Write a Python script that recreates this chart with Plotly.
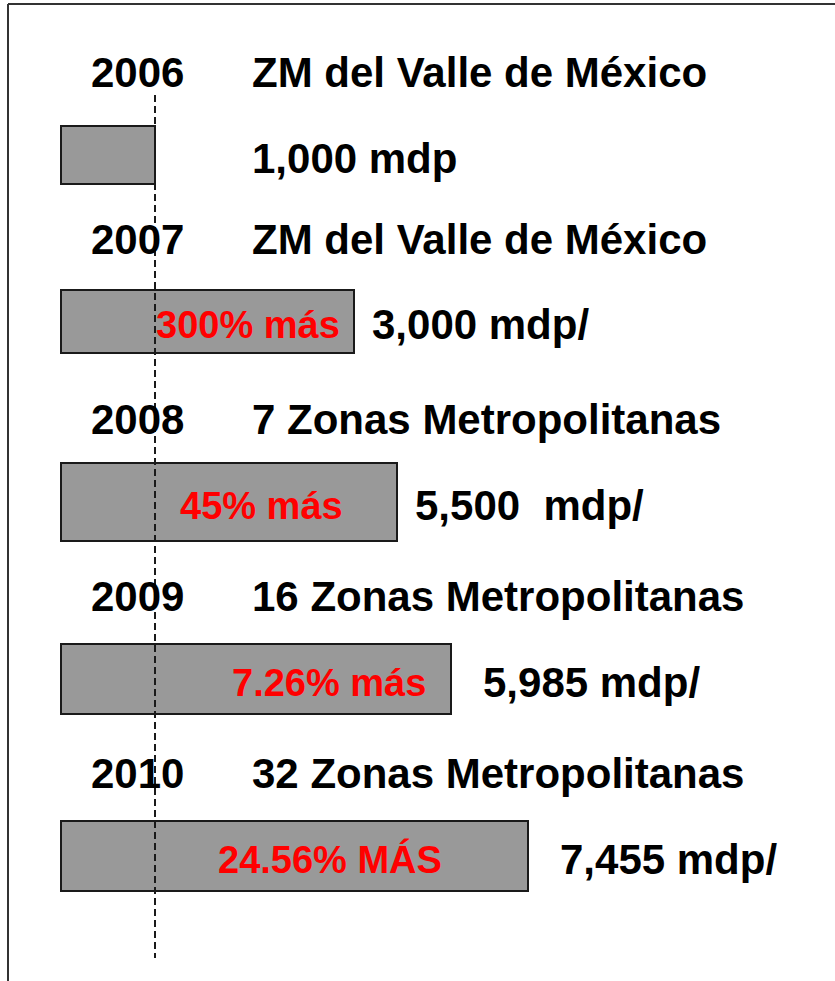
import plotly.graph_objects as go

years = ["2006", "2007", "2008", "2009", "2010"]
zones = ["ZM del Valle de México", "ZM del Valle de México", "7 Zonas Metropolitanas",
         "16 Zonas Metropolitanas", "32 Zonas Metropolitanas"]
amount_labels = ["1,000 mdp", "3,000 mdp/", "5,500  mdp/", "5,985 mdp/", "7,455 mdp/"]
# schematic bar lengths as drawn (millions of pesos, relative to 2006 = 1,000)
bar_lengths = [1000, 3120, 3570, 4150, 4970]
growth_labels = ["", "300% más", "45% más", "7.26% más", "24.56% MÁS"]

W, H = 835, 981
px_per_unit = 94 / 1000.0
x0_px = 61
x_range = [-x0_px / px_per_unit, (W - x0_px) / px_per_unit]
row0_px, row_step = 155, 175.25
y_range = [(H - row0_px) / row_step, -row0_px / row_step]

# small per-row layout nudge (row units) to follow the uneven spacing of the slide
row_nudge = [0, -0.05, -0.02, -0.01, 0]
rows = [i + row_nudge[i] for i in range(len(years))]
bar_widths = [0.33, 0.365, 0.44, 0.405, 0.40]

fig = go.Figure()
fig.add_trace(go.Bar(
    x=bar_lengths, y=rows, orientation="h", width=bar_widths,
    marker=dict(color="#999999", line=dict(color="#1a1a1a", width=2)),
    hoverinfo="skip", showlegend=False,
))

FONT = "Liberation Sans, Arial, sans-serif"
FS = 42
ann = []
amount_shift = [0, 16, 16, 30, 30]
growth_shift = [0, -12, -52, -23, -84]
for i, r in enumerate(rows):
    ann.append(dict(x=137 / W, xref="paper", y=r - 0.47, yref="y", text=f"<b>{years[i]}</b>",
                    showarrow=False, xanchor="center", yanchor="middle",
                    font=dict(family=FONT, size=FS, color="black")))
    ann.append(dict(x=250 / W, xref="paper", y=r - 0.47, yref="y", text=f"<b>{zones[i]}</b>",
                    showarrow=False, xanchor="left", yanchor="middle",
                    font=dict(family=FONT, size=FS, color="black")))
    if i == 0:
        ax, axref = 250 / W, "paper"
    else:
        ax, axref = bar_lengths[i], "x"
    ann.append(dict(x=ax, xref=axref, y=r + 0.02, yref="y", text=f"<b>{amount_labels[i]}</b>",
                    showarrow=False, xanchor="left", yanchor="middle", xshift=amount_shift[i],
                    font=dict(family=FONT, size=FS, color="black")))
    if growth_labels[i]:
        ann.append(dict(x=bar_lengths[i], xref="x", y=r + 0.02, yref="y", text=f"<b>{growth_labels[i]}</b>",
                        showarrow=False, xanchor="right", yanchor="middle", xshift=growth_shift[i],
                        font=dict(family=FONT, size=38, color="#ff0000")))

shapes = [
    dict(type="line", xref="x", x0=bar_lengths[0], x1=bar_lengths[0], yref="paper",
         y0=1 - 95 / H, y1=1 - 958 / H, line=dict(color="#1a1a1a", width=2, dash="7px,4px")),
    dict(type="line", xref="paper", yref="paper", x0=8 / W, x1=1, y0=1 - 4 / H, y1=1 - 4 / H,
         line=dict(color="#333333", width=2)),
    dict(type="line", xref="paper", yref="paper", x0=8 / W, x1=8 / W, y0=1 - 4 / H, y1=0,
         line=dict(color="#333333", width=2)),
]

fig.update_layout(
    width=W, height=H, margin=dict(l=0, r=0, t=0, b=0),
    paper_bgcolor="white", plot_bgcolor="white",
    xaxis=dict(range=x_range, visible=False, fixedrange=True),
    yaxis=dict(range=y_range, visible=False, fixedrange=True),
    annotations=ann, shapes=shapes, bargap=0,
)
fig.write_html("out.html", config=dict(displayModeBar=False),
               post_script="document.body.style.margin='0';document.body.style.overflow='hidden';")
